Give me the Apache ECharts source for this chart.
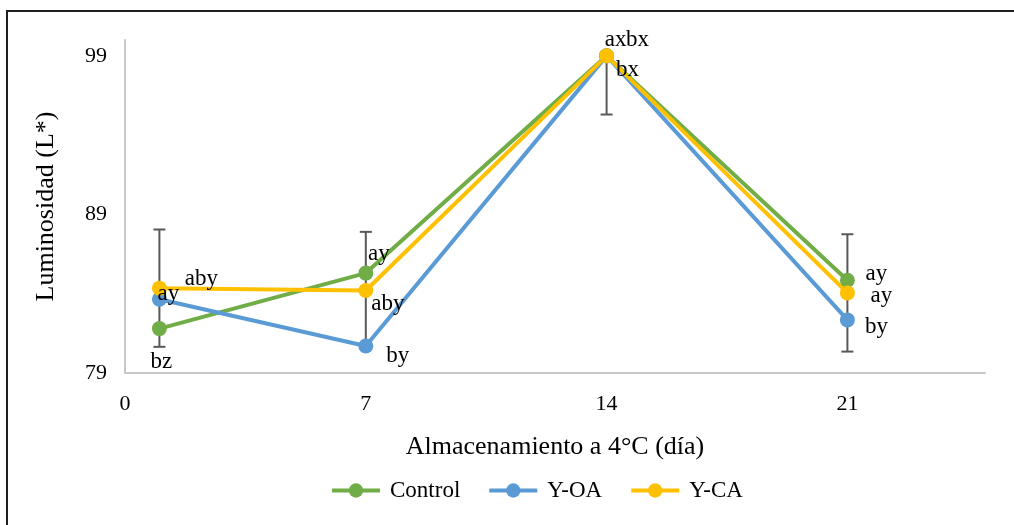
<!DOCTYPE html>
<html>
<head>
<meta charset="utf-8">
<script src="https://cdn.jsdelivr.net/npm/echarts@6/dist/echarts.min.js"></script>
<style>
  html, body { margin: 0; padding: 0; background: #fff; }
  #chart { width: 1014px; height: 525px; }
</style>
</head>
<body>
<div id="chart"></div>
<script>
// Storage day of each measurement
const days = [1, 7, 14, 21];

// Mean lightness (L*) per treatment
const control = [81.8, 85.3, 99.0, 84.85];
const yOA = [83.65, 80.7, 99.0, 82.35];
const yCA = [84.35, 84.2, 99.0, 84.05];

// Error bar half-width (Y-CA)
const yCAErr = [3.7, 3.7, 3.7, 3.7];

// Significance letters per point
const controlLetters = ['bz', 'ay', 'ax', 'ay'];
const yOALetters = ['ay', 'by', 'bx', 'by'];
const yCALetters = ['aby', 'aby', 'bx', 'ay'];

// Axis ranges
const X_MIN = 0, X_MAX = 25, X_STEP = 7;
const Y_MIN = 79, Y_MAX = 100, Y_STEP = 10;

// Label placement offsets (pixels from marker centre)
const controlOffsets = [[2, 33], [13, -19], [9, -16], [29, -6]];
const yOAOffsets = [[9, -5], [32, 10], [21, 14], [29, 7]];
const yCAOffsets = [[42, -9], [22, 13], [31, -16], [34, 3]];

const FONT = '"Liberation Serif", "Times New Roman", serif';

function pointData(values, letters) {
  return days.map((d, i) => ({
    value: [d, values[i]],
    label: { formatter: letters[i] }
  }));
}

function lineSeries(name, color, values, letters, offsets) {
  return {
    name: name,
    type: 'line',
    data: pointData(values, letters),
    symbol: 'circle',
    symbolSize: 15,
    lineStyle: { color: color, width: 4 },
    itemStyle: { color: color },
    label: {
      show: true,
      position: 'inside',
      color: '#000',
      fontFamily: FONT,
      fontSize: 23
    },
    labelLayout: function (params) {
      const o = offsets[params.dataIndex];
      return { dx: o[0], dy: o[1], hideOverlap: false };
    },
    emphasis: { disabled: true }
  };
}

const errorData = days.map((d, i) => [d, yCA[i], yCA[i] - yCAErr[i], yCA[i] + yCAErr[i]]);

const chart = echarts.init(document.getElementById('chart'), null, { renderer: 'canvas' });

chart.setOption({
  animation: false,
  backgroundColor: '#fff',
  graphic: [{
    type: 'rect',
    shape: { x: 7, y: 11, width: 1100, height: 600 },
    style: { fill: null, stroke: '#1f1f1f', lineWidth: 2 },
    silent: true
  }],
  grid: { left: 125, right: 29, top: 40, bottom: 152, containLabel: false },
  legend: {
    left: 330,
    top: 479,
    padding: 0,
    itemWidth: 48,
    itemHeight: 18,
    itemGap: 27,
    lineStyle: { width: 4 },
    textStyle: { fontFamily: FONT, fontSize: 23, color: '#000', padding: [0, 0, 0, 5] },
    data: ['Control', 'Y-OA', 'Y-CA']
  },
  xAxis: {
    type: 'value',
    min: X_MIN, max: X_MAX, interval: X_STEP,
    name: 'Almacenamiento a 4°C (día)',
    nameLocation: 'middle',
    nameGap: 61,
    nameTextStyle: { fontFamily: FONT, fontSize: 26, color: '#000' },
    axisLine: { show: true, lineStyle: { color: '#c8c8c8', width: 2 } },
    axisTick: { show: false },
    splitLine: { show: false },
    axisLabel: { fontFamily: FONT, fontSize: 22, color: '#000', margin: 20, showMaxLabel: false }
  },
  yAxis: {
    type: 'value',
    min: Y_MIN, max: Y_MAX, interval: Y_STEP,
    name: 'Luminosidad (L*)',
    nameLocation: 'middle',
    nameGap: 66,
    nameTextStyle: { fontFamily: FONT, fontSize: 26, color: '#000' },
    axisLine: { show: true, lineStyle: { color: '#c8c8c8', width: 2 } },
    axisTick: { show: false },
    splitLine: { show: false },
    axisLabel: { fontFamily: FONT, fontSize: 22, color: '#000', margin: 18, showMaxLabel: false }
  },
  series: [
    {
      name: 'errors',
      type: 'custom',
      z: 1,
      silent: true,
      data: errorData,
      encode: { x: 0, y: 1 },
      renderItem: function (params, api) {
        const x = api.value(0), mid = api.value(1), lo = api.value(2), hi = api.value(3);
        const cap = 6;
        const style = { stroke: '#595959', lineWidth: 2, fill: null };
        const pMid = api.coord([x, mid]);
        const pLo = api.coord([x, lo]);
        const children = [
          { type: 'line', shape: { x1: pMid[0], y1: pMid[1], x2: pLo[0], y2: pLo[1] }, style: style },
          { type: 'line', shape: { x1: pLo[0] - cap, y1: pLo[1], x2: pLo[0] + cap, y2: pLo[1] }, style: style }
        ];
        if (hi <= Y_MAX) {
          const pHi = api.coord([x, hi]);
          children.push(
            { type: 'line', shape: { x1: pMid[0], y1: pMid[1], x2: pHi[0], y2: pHi[1] }, style: style },
            { type: 'line', shape: { x1: pHi[0] - cap, y1: pHi[1], x2: pHi[0] + cap, y2: pHi[1] }, style: style }
          );
        }
        return { type: 'group', children: children };
      }
    },
    lineSeries('Control', '#70AD47', control, controlLetters, controlOffsets),
    lineSeries('Y-OA', '#5B9BD5', yOA, yOALetters, yOAOffsets),
    lineSeries('Y-CA', '#FFC000', yCA, yCALetters, yCAOffsets)
  ]
});
</script>
</body>
</html>
